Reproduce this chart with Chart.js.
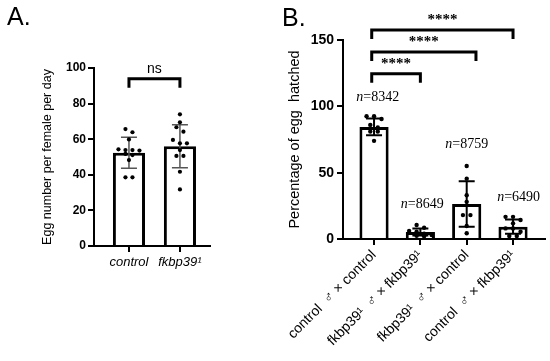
<!DOCTYPE html>
<html>
<head>
<meta charset="utf-8">
<script src="https://cdn.jsdelivr.net/npm/chart.js@4"></script>
<style>
  body { margin: 0; background: #fff; }
  #wrap { position: relative; width: 550px; height: 361px; overflow: hidden; }
  canvas { position: absolute; top: 0; }
  .panel { position: absolute; font: 25px 'Liberation Sans', Arial, sans-serif; color: #000; line-height: 1; }
</style>
</head>
<body>
<div id="wrap">
  <canvas id="eggChart" width="275" height="361" style="left:0"></canvas>
  <canvas id="hatchChart" width="275" height="361" style="left:275px"></canvas>
  <div class="panel" style="left:7px;top:4px">A.</div>
  <div class="panel" style="left:282px;top:5px">B.</div>
</div>

<script>
// 1. DATA - panel A, eggs laid per female per day
const eggGroups = ['control', 'fkbp39¹'];
const eggMeans = [52.4, 56.0];
const eggSD = [8.7, 12.1];
const eggDots = [
  [65.7, 63.9, 59.9, 54.3, 53.9, 53.9, 53.6, 51.7, 51.1, 48.3, 38.6, 38.6],
  [74.0, 69.5, 66.7, 64.2, 59.6, 57.7, 57.7, 53.9, 50.6, 50.6, 41.7, 31.8]
];
const eggTicks = [0, 20, 40, 60, 80, 100];

// 2. DATA - panel B, percentage of eggs hatched
const hatchGroups = ['control  ♂ × control', 'fkbp39¹  ♂ × fkbp39¹', 'fkbp39¹  ♂ × control', 'control  ♂ × fkbp39¹'];
const hatchMeans = [84.5, 5.3, 26.4, 9.3];
const hatchSD = [6.3, 2.6, 17.2, 5.4];
const hatchDots = [
  [92.5, 92.5, 90.5, 86.0, 84.0, 81.0, 81.0, 74.0],
  [10.5, 8.5, 6.0, 5.5, 4.0, 3.0, 2.5, 2.0],
  [55.0, 45.5, 33.0, 28.0, 18.0, 18.0, 9.8, 4.3],
  [16.7, 16.7, 14.3, 11.8, 8.0, 8.0, 5.5, 2.3, 2.3]
];
const hatchN = ['8342', '8649', '8759', '6490'];
const hatchTicks = [0, 50, 100, 150];

Chart.defaults.font.family = "'Liberation Sans', Arial, sans-serif";
Chart.defaults.color = '#000';

// 3. HELPERS
// points at about the same height are put side by side (like GraphPad scatter)
function swarm(values, yScale, cx, step) {
  const pts = values.map(v => yScale.getPixelForValue(v)).sort((a, b) => a - b);
  const out = [];
  let i = 0;
  while (i < pts.length) {
    let j = i;
    while (j + 1 < pts.length && pts[j + 1] - pts[i] < 4.5) j++;
    const n = j - i + 1;
    for (let k = 0; k < n; k++) out.push({ x: cx + (k - (n - 1) / 2) * step, y: pts[i + k] });
    i = j + 1;
  }
  return out;
}

function drawErrorsAndDots(chart, means, sds, dots, o) {
  const { ctx, scales: { x, y } } = chart;
  ctx.save();
  means.forEach((m, i) => {
    const cx = x.getPixelForValue(i);
    const top = y.getPixelForValue(m + sds[i]);
    const bot = y.getPixelForValue(Math.max(0, m - sds[i]));
    ctx.strokeStyle = o.color;
    ctx.lineWidth = o.width;
    ctx.beginPath();
    ctx.moveTo(cx, top); ctx.lineTo(cx, bot);
    ctx.moveTo(cx - o.cap, top); ctx.lineTo(cx + o.cap, top);
    ctx.moveTo(cx - o.cap, bot); ctx.lineTo(cx + o.cap, bot);
    ctx.stroke();
    ctx.fillStyle = '#000';
    swarm(dots[i], y, cx, o.step).forEach(p => {
      ctx.beginPath();
      ctx.arc(p.x, p.y, o.r, 0, Math.PI * 2);
      ctx.fill();
    });
  });
  ctx.restore();
}

// significance bracket between two category positions, at a height in data units
function bracket(chart, from, to, level, text, font) {
  const { ctx, scales: { x, y } } = chart;
  const x1 = x.getPixelForValue(from), x2 = x.getPixelForValue(to);
  const yl = y.getPixelForValue(level);
  ctx.save();
  ctx.strokeStyle = '#000';
  ctx.lineWidth = 3;
  ctx.lineJoin = 'miter';
  ctx.beginPath();
  ctx.moveTo(x1, yl + 9); ctx.lineTo(x1, yl); ctx.lineTo(x2, yl); ctx.lineTo(x2, yl + 9);
  ctx.stroke();
  ctx.fillStyle = '#000';
  ctx.font = font;
  ctx.textAlign = 'center';
  ctx.textBaseline = 'alphabetic';
  ctx.fillText(text, (x1 + x2) / 2, yl - 6);
  ctx.restore();
}

function nLabel(chart, at, level, n) {
  const { ctx, scales: { x, y } } = chart;
  const cx = x.getPixelForValue(at), cy = y.getPixelForValue(level);
  ctx.save();
  ctx.fillStyle = '#000';
  ctx.textBaseline = 'middle';
  const it = "italic 14px 'Liberation Serif', 'Times New Roman', serif";
  const rg = "14px 'Liberation Serif', 'Times New Roman', serif";
  ctx.font = it; const w1 = ctx.measureText('n').width;
  ctx.font = rg; const w2 = ctx.measureText('=' + n).width;
  const left = cx - (w1 + w2) / 2;
  ctx.textAlign = 'left';
  ctx.font = it; ctx.fillText('n', left, cy);
  ctx.font = rg; ctx.fillText('=' + n, left + w1, cy);
  ctx.restore();
}

function axisCommon(width) {
  return {
    border: { display: true, color: '#000', width: 2 },
    grid: { drawOnChartArea: false, drawTicks: true, tickLength: 6, color: '#000', lineWidth: width, offset: false }
  };
}

// 4. PANEL A
new Chart(document.getElementById('eggChart'), {
  type: 'bar',
  data: {
    datasets: [{
      data: eggMeans.map((v, i) => ({ x: i, y: v })),
      backgroundColor: '#fff',
      borderColor: '#000',
      borderWidth: 3,
      borderSkipped: 'start',
      categoryPercentage: 1,
      barPercentage: 0.63
    }]
  },
  options: {
    responsive: false,
    animation: false,
    devicePixelRatio: 1,
    layout: { padding: { left: 0, right: 65, top: 68, bottom: 0 } },
    plugins: { legend: { display: false }, tooltip: { enabled: false } },
    scales: {
      x: {
        type: 'linear', min: -0.686, max: 1.59, offset: false,
        ...axisCommon(2),
        afterBuildTicks: s => { s.ticks = eggGroups.map((_, i) => ({ value: i })); },
        afterFit: s => { s.height = 115; s.paddingLeft = 0; s.paddingRight = 0; },
        ticks: {
          autoSkip: false, maxRotation: 0, padding: 3,
          font: { size: 13, style: 'italic' },
          callback: v => eggGroups[v]
        }
      },
      y: {
        min: 0, max: 100,
        ...axisCommon(2),
        afterBuildTicks: s => { s.ticks = eggTicks.map(v => ({ value: v })); },
        afterFit: s => { s.width = 94; s.paddingTop = 0; s.paddingBottom = 0; },
        ticks: { font: { size: 12, weight: 'bold' }, padding: 2 },
        title: { display: true, text: 'Egg number per female per day', font: { size: 12.5 }, padding: { top: 40.5, bottom: 0 } }
      }
    }
  },
  plugins: [{
    id: 'eggExtras',
    afterDatasetsDraw(chart) {
      drawErrorsAndDots(chart, eggMeans, eggSD, eggDots, { color: '#555', width: 1.5, cap: 8, step: 7, r: 2.1 });
      bracket(chart, 0, 1, 94, 'ns', "14px 'Liberation Sans', Arial, sans-serif");
    }
  }]
});

// 5. PANEL B
new Chart(document.getElementById('hatchChart'), {
  type: 'bar',
  data: {
    datasets: [{
      data: hatchMeans.map((v, i) => ({ x: i, y: v })),
      backgroundColor: '#fff',
      borderColor: '#000',
      borderWidth: 3,
      borderSkipped: 'start',
      categoryPercentage: 1,
      barPercentage: 0.63
    }]
  },
  options: {
    responsive: false,
    animation: false,
    devicePixelRatio: 1,
    layout: { padding: { left: 0, right: 5, top: 40, bottom: 0 } },
    plugins: { legend: { display: false }, tooltip: { enabled: false } },
    scales: {
      x: {
        type: 'linear', min: -0.67, max: 3.69, offset: false,
        ...axisCommon(2),
        afterBuildTicks: s => { s.ticks = hatchGroups.map((_, i) => ({ value: i })); },
        afterFit: s => { s.height = 122; s.paddingLeft = 0; s.paddingRight = 0; },
        ticks: {
          autoSkip: false, minRotation: 45, maxRotation: 45, padding: 2,
          font: { size: 14 },
          callback: v => hatchGroups[v]
        }
      },
      y: {
        min: 0, max: 150,
        ...axisCommon(2),
        afterBuildTicks: s => { s.ticks = hatchTicks.map(v => ({ value: v })); },
        afterFit: s => { s.width = 68; s.paddingTop = 0; s.paddingBottom = 0; },
        ticks: { font: { size: 14, weight: 'bold' }, padding: 3 },
        title: { display: true, text: 'Percentage of egg  hatched', font: { size: 14.5 }, padding: { top: 11, bottom: 0 } }
      }
    }
  },
  plugins: [{
    id: 'hatchExtras',
    afterDatasetsDraw(chart) {
      drawErrorsAndDots(chart, hatchMeans, hatchSD, hatchDots, { color: '#000', width: 2, cap: 8, step: 7.5, r: 2.2 });
      const star = "bold 15px 'Liberation Serif', 'Times New Roman', serif";
      bracket(chart, -0.05, 3, 157.5, '****', star);
      bracket(chart, -0.05, 2.2, 141, '****', star);
      bracket(chart, -0.05, 1, 124.5, '****', star);
      nLabel(chart, 0.08, 107, hatchN[0]);
      nLabel(chart, 1.04, 26, hatchN[1]);
      nLabel(chart, 2, 71, hatchN[2]);
      nLabel(chart, 3.12, 31.5, hatchN[3]);
    }
  }]
});
</script>
</body>
</html>
